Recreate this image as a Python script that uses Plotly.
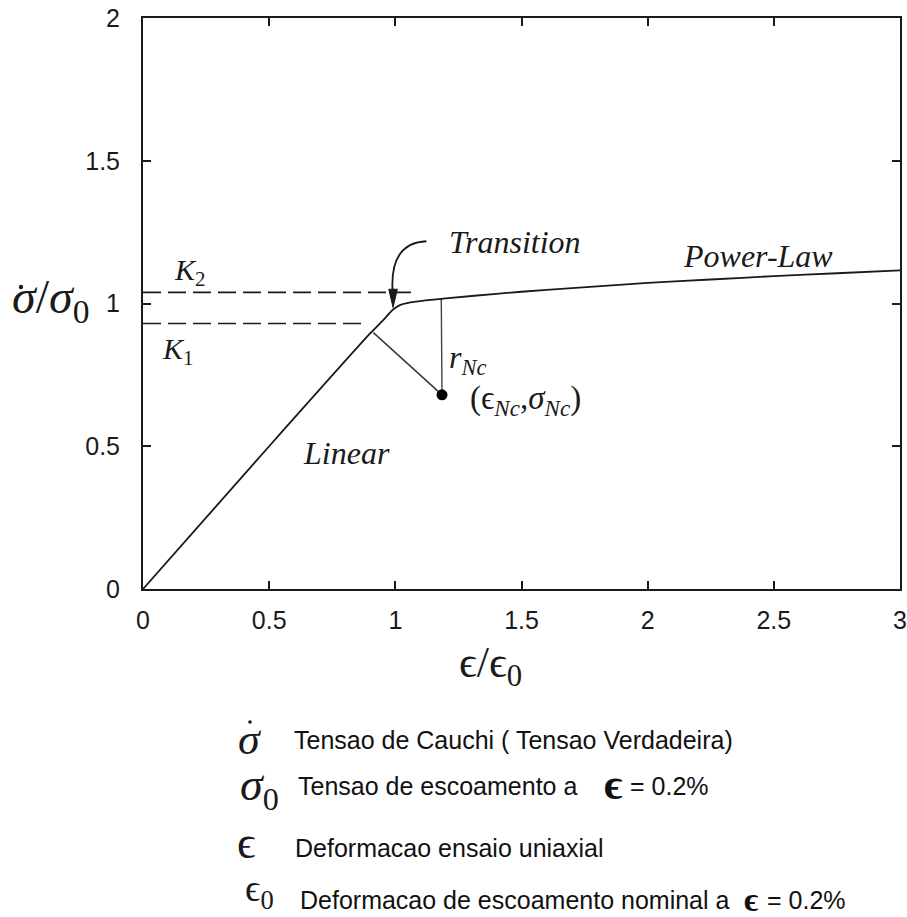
import plotly.graph_objects as go

# Normalised stress-strain curve: linear branch, smooth transition, power-law branch
strain = [0.0, 0.50, 0.90, 0.95, 0.99, 1.02, 1.06, 1.12, 1.20, 1.40, 1.60,
          1.80, 2.00, 2.25, 2.50, 2.75, 3.00]
stress = [0.0, 0.50, 0.895, 0.940, 0.978, 0.995, 1.004, 1.011, 1.018, 1.034,
          1.048, 1.060, 1.072, 1.084, 1.096, 1.106, 1.116]

# Levels K1 / K2 and the extent of their dashed guides
k_levels = [0.93, 1.039]
k_ends = [0.873, 1.07]

# Sample point (eps_Nc, sigma_Nc), its normal foot on the linear branch and
# the point on the curve straight above it
point_nc = (1.185, 0.68)
normal_foot = (0.913, 0.898)
curve_above = (1.182, 1.018)

x_ticks = [0, 0.5, 1, 1.5, 2, 2.5, 3]
x_ticktext = ["0", "0.5", "1", "1.5", "2", "2.5", "3"]
y_ticks = [0, 0.5, 1, 1.5, 2]
y_ticktext = ["0", "0.5", "1", "1.5", "2"]

legend_symbols = ["<i>σ</i>", "<i>σ</i><sub>0</sub>", "ϵ", "ϵ<sub>0</sub>"]
legend_texts = [
    ["Tensao de Cauchi ( Tensao Verdadeira)"],
    ["Tensao de escoamento a", "ϵ", "= 0.2%"],
    ["Deformacao ensaio uniaxial"],
    ["Deformacao de escoamento nominal a", "ϵ", "= 0.2%"],
]

W, H = 907, 917
L, R, T, B = 143, 7, 18, 328
INK = "#1a1a1a"
SERIF = "Liberation Serif, Times New Roman, serif"
SANS = "Liberation Sans, Arial, sans-serif"


def paper(px, py):
    """Pixel position on the page -> paper coordinates."""
    return (px - L) / (W - L - R), (H - B - py) / (H - T - B)


fig = go.Figure()

# dashed K guides
for lev, end in zip(k_levels, k_ends):
    fig.add_trace(go.Scatter(x=[0, end], y=[lev, lev], mode="lines",
                             line=dict(color=INK, width=1.6, dash="18px,7px"),
                             hoverinfo="skip", showlegend=False))

# normal from the sample point to the linear branch, and vertical r_Nc
fig.add_trace(go.Scatter(x=[normal_foot[0], point_nc[0]], y=[normal_foot[1], point_nc[1]],
                         mode="lines", line=dict(color="#333", width=1.4),
                         hoverinfo="skip", showlegend=False))
fig.add_trace(go.Scatter(x=[curve_above[0], point_nc[0]], y=[curve_above[1], point_nc[1]],
                         mode="lines", line=dict(color="#444", width=1.4),
                         hoverinfo="skip", showlegend=False))

# main curve
fig.add_trace(go.Scatter(x=strain, y=stress, mode="lines",
                         line=dict(color=INK, width=1.8, shape="spline", smoothing=0.6),
                         hoverinfo="skip", showlegend=False))

# sample point
fig.add_trace(go.Scatter(x=[point_nc[0]], y=[point_nc[1]], mode="markers",
                         marker=dict(color="black", size=11),
                         hoverinfo="skip", showlegend=False))

# curved "Transition" arrow and its head
fig.add_shape(type="path", xref="x", yref="y",
              path="M 1.123,1.218 Q 0.978,1.212 0.989,1.045",
              line=dict(color=INK, width=1.8))
fig.add_shape(type="path", xref="x", yref="y",
              path="M 0.974,1.050 L 1.008,1.050 L 0.991,0.986 Z",
              line=dict(color=INK, width=1), fillcolor=INK)


def dot(px, py, r=2.0):
    """Small filled dot (time-derivative accent) at a page position."""
    x0, y0 = paper(px - r, py + r)
    x1, y1 = paper(px + r, py - r)
    fig.add_shape(type="circle", xref="paper", yref="paper",
                  x0=x0, y0=y0, x1=x1, y1=y1,
                  line=dict(color=INK, width=0), fillcolor=INK)


annotations = []


def label(x, y, text, size, font=SERIF, italic=False, xanchor="center", ref="data",
          color=INK, bold=False):
    if ref == "data":
        xr, yr = "x", "y"
    else:
        xr, yr = "paper", "paper"
        x, y = paper(x, y)
    annotations.append(dict(x=x, y=y, xref=xr, yref=yr, text=text, showarrow=False,
                            xanchor=xanchor, yanchor="middle",
                            font=dict(family=font, size=size, color=color,
                                      weight="bold" if bold else "normal",
                                      style="italic" if italic else "normal")))


label(1.476, 1.214, "<i>Transition</i>", 32)
label(2.436, 1.168, "<i>Power-Law</i>", 32)
label(0.806, 0.478, "<i>Linear</i>", 32)
label(0.186, 1.112, "<i>K</i><sub>2</sub>", 30)
label(0.139, 0.832, "<i>K</i><sub>1</sub>", 30)
label(1.286, 0.805, "<i>r</i><sub><i>Nc</i></sub>", 32)
label(1.516, 0.660, "(ϵ<sub><i>Nc</i></sub>,<i>σ</i><sub><i>Nc</i></sub>)", 33)

# axis titles
label(10, 300, "<i>σ</i>/<i>σ</i><sub>0</sub>", 48, ref="page", xanchor="left")
dot(21, 287, 2.2)
label(490, 665, "ϵ/ϵ<sub>0</sub>", 44, ref="page")

# symbol glossary below the chart
sym_pos = [(250, 739, 44), (259, 788, 46), (246, 842, 46), (259, 891, 38)]
dot(250, 722, 1.8)
txt_start = [(292, 740), (296, 786), (293, 848), (298, 900)]
eps_sizes = [None, 44, None, 34]
eps_pos = [None, (613, 784), None, (751, 899)]
tail_start = [None, 628, None, 765]
for i, s in enumerate(legend_symbols):
    sx, sy, ss = sym_pos[i]
    label(sx, sy, s, ss, ref="page")
    pieces = legend_texts[i]
    tx, ty = txt_start[i]
    label(tx, ty, pieces[0], 25, font=SANS, xanchor="left", ref="page", color="#111")
    if len(pieces) > 1:
        ex, ey = eps_pos[i]
        label(ex, ey, pieces[1], eps_sizes[i], bold=True, ref="page", color="#111")
        label(tail_start[i], ty, pieces[2], 25, font=SANS, xanchor="left", ref="page",
              color="#111")

axis_common = dict(ticks="inside", ticklen=8, tickwidth=1.5, tickcolor=INK,
                   showline=True, linecolor=INK, linewidth=2, mirror="ticks",
                   showgrid=False, zeroline=False, automargin=False,
                   tickfont=dict(family=SANS, size=25, color=INK))

fig.update_layout(
    width=W, height=H,
    margin=dict(l=L, r=R, t=T, b=B, pad=0, autoexpand=False),
    paper_bgcolor="white", plot_bgcolor="white",
    annotations=annotations,
    showlegend=False,
    xaxis=dict(range=[0, 3], tickvals=x_ticks, ticktext=x_ticktext,
               ticklabelstandoff=8, **axis_common),
    yaxis=dict(range=[0, 2], tickvals=y_ticks, ticktext=y_ticktext,
               ticklabelstandoff=16, **axis_common),
)

fig.write_html("out.html")
